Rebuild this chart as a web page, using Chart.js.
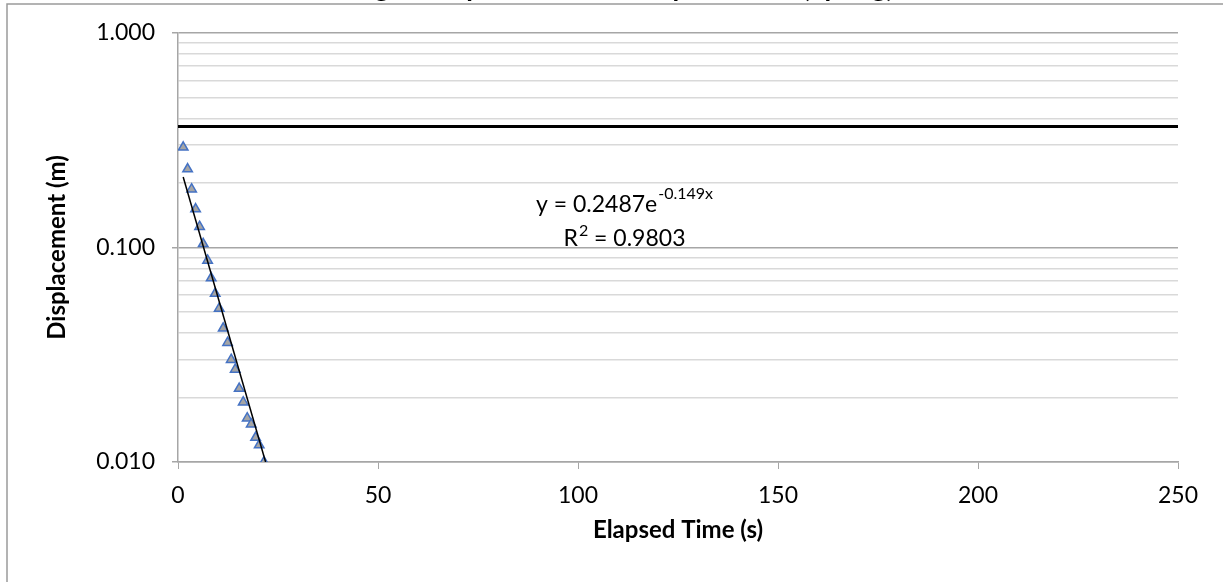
<!DOCTYPE html>
<html>
<head>
<meta charset="utf-8">
<script src="https://cdn.jsdelivr.net/npm/chart.js@4/dist/chart.umd.min.js"></script>
<style>
  body { margin: 0; background: #fff; }
  canvas { display: block; }
</style>
</head>
<body>
<canvas id="myChart" width="1223" height="582"></canvas>
<script>
const timeValues = [1.3, 2.4, 3.4, 4.4, 5.4, 6.3, 7.4, 8.3, 9.3, 10.3, 11.3, 12.4, 13.3, 14.3, 15.3, 16.3, 17.3, 18.3, 19.4, 20.3, 21.5];
const displacementValues = [0.293, 0.232, 0.187, 0.151, 0.125, 0.104, 0.087, 0.072, 0.061, 0.052, 0.042, 0.036, 0.030, 0.027, 0.022, 0.019, 0.016, 0.015, 0.013, 0.012, 0.010];

// exponential trendline end points, as drawn
const trendX = [1.3, 21.9];
const trendY = [0.213, 0.0100];

// horizontal reference line
const refX = [0, 250];
const refY = [0.367, 0.367];

const yTickValues = [0.01, 0.02, 0.03, 0.04, 0.05, 0.06, 0.07, 0.08, 0.09,
                     0.1, 0.2, 0.3, 0.4, 0.5, 0.6, 0.7, 0.8, 0.9, 1];
const yLabelValues = [0.01, 0.1, 1];
const xTicks = [0, 50, 100, 150, 200, 250];

const chartTitle = "Log of Displacement vs. Elapsed Time (Spring)";
const eqMain = "y = 0.2487e";
const eqExp = "-0.149x";
const eqR = "R";
const eqRsup = "2";
const eqRrest = " = 0.9803";

const FONT = "Lato, 'Noto Sans', sans-serif";
const AXIS_GREY = "#a6a6a6";
const GRID_GREY = "#d9d9d9";

const toPoints = (xs, ys) => xs.map((x, i) => ({ x: x, y: ys[i] }));

const decorations = {
    id: "decorations",
    beforeDraw(chart) {
        const c = chart.ctx;
        c.save();
        c.fillStyle = "#fff";
        c.fillRect(0, 0, chart.width, chart.height);
        // outer chart frame (only left and top edges are inside the shot)
        c.strokeStyle = "#9a9a9a";
        c.lineWidth = 1.5;
        c.beginPath();
        c.moveTo(7, chart.height);
        c.lineTo(7, 4);
        c.lineTo(chart.width, 4);
        c.stroke();
        // title sits almost entirely above the visible area
        c.fillStyle = "#000";
        c.font = "bold 27px " + FONT;
        c.textAlign = "center";
        c.textBaseline = "alphabetic";
        c.fillText(chartTitle, 620, -3);
        c.restore();
    },
    afterDatasetsDraw(chart) {
        const c = chart.ctx;
        c.save();
        c.fillStyle = "#000";
        c.textBaseline = "alphabetic";
        c.textAlign = "left";
        // y = ... e^(exp)
        c.font = "23px " + FONT;
        const x0 = 536;
        c.fillText(eqMain, x0, 212);
        const w = c.measureText(eqMain).width;
        c.font = "16px " + FONT;
        c.fillText(eqExp, x0 + w + 1, 199);
        // R^2 = ...
        c.font = "23px " + FONT;
        const rw = c.measureText(eqR).width;
        c.font = "16px " + FONT;
        const sw = c.measureText(eqRsup).width;
        c.font = "23px " + FONT;
        const restw = c.measureText(eqRrest).width;
        const xr = 624 - (rw + sw + restw) / 2;
        c.fillText(eqR, xr, 246);
        c.fillText(eqRrest, xr + rw + sw + 1, 246);
        c.font = "16px " + FONT;
        c.fillText(eqRsup, xr + rw + 1, 236);
        c.restore();
    }
};

const ctx = document.getElementById("myChart");

new Chart(ctx, {
    type: "scatter",
    data: {
        datasets: [
            {
                label: "Displacement",
                data: toPoints(timeValues, displacementValues),
                pointStyle: "triangle",
                pointRadius: 5.5,
                pointHoverRadius: 5.5,
                backgroundColor: "#a5a5a5",
                borderColor: "#4472c4",
                borderWidth: 1.5,
                order: 2,
            },
            {
                label: "Trend",
                type: "line",
                data: toPoints(trendX, trendY),
                borderColor: "#000",
                borderWidth: 1.5,
                pointRadius: 0,
                fill: false,
                order: 1,
            },
            {
                label: "Reference",
                type: "line",
                data: toPoints(refX, refY),
                borderColor: "#000",
                borderWidth: 3,
                pointRadius: 0,
                fill: false,
                order: 0,
            },
        ],
    },
    options: {
        responsive: false,
        devicePixelRatio: 1,
        animation: false,
        layout: { padding: { top: 33, right: 45, left: 0, bottom: 0 } },
        plugins: {
            legend: { display: false },
            tooltip: { enabled: false },
        },
        scales: {
            x: {
                type: "linear",
                min: 0,
                max: 250,
                afterBuildTicks: (scale) => {
                    scale.ticks = xTicks.map((v) => ({ value: v }));
                },
                afterFit: (scale) => { scale.height = 120; },
                grid: {
                    drawOnChartArea: false,
                    drawTicks: true,
                    tickLength: 7,
                    color: AXIS_GREY,
                    tickColor: AXIS_GREY,
                },
                border: { display: true, color: AXIS_GREY, width: 1.5 },
                ticks: {
                    color: "#000",
                    padding: 13,
                    font: { family: FONT, size: 23 },
                },
                title: {
                    display: true,
                    text: "Elapsed Time (s)",
                    color: "#000",
                    font: { family: FONT, size: 24, weight: "bold" },
                    padding: { top: 0, bottom: 37 },
                },
            },
            y: {
                type: "logarithmic",
                min: 0.01,
                max: 1,
                afterBuildTicks: (scale) => {
                    scale.ticks = yTickValues.map((v) => ({ value: v }));
                },
                afterFit: (scale) => { scale.width = 178; },
                grid: {
                    color: (c) => yLabelValues.includes(c.tick.value) ? AXIS_GREY : GRID_GREY,
                    lineWidth: 1.5,
                    drawTicks: true,
                    tickLength: 6,
                    tickColor: (c) => yLabelValues.includes(c.tick.value) ? AXIS_GREY : "rgba(0,0,0,0)",
                },
                border: { display: true, color: AXIS_GREY, width: 1.5 },
                ticks: {
                    color: "#000",
                    padding: 17,
                    autoSkip: false,
                    font: { family: FONT, size: 23 },
                    callback: (value) => yLabelValues.includes(value) ? value.toFixed(3) : "",
                },
                title: {
                    display: true,
                    text: "Displacement (m)",
                    color: "#000",
                    font: { family: FONT, size: 24, weight: "bold" },
                    padding: { top: 43, bottom: 0 },
                },
            },
        },
    },
    plugins: [decorations],
});
</script>
</body>
</html>
